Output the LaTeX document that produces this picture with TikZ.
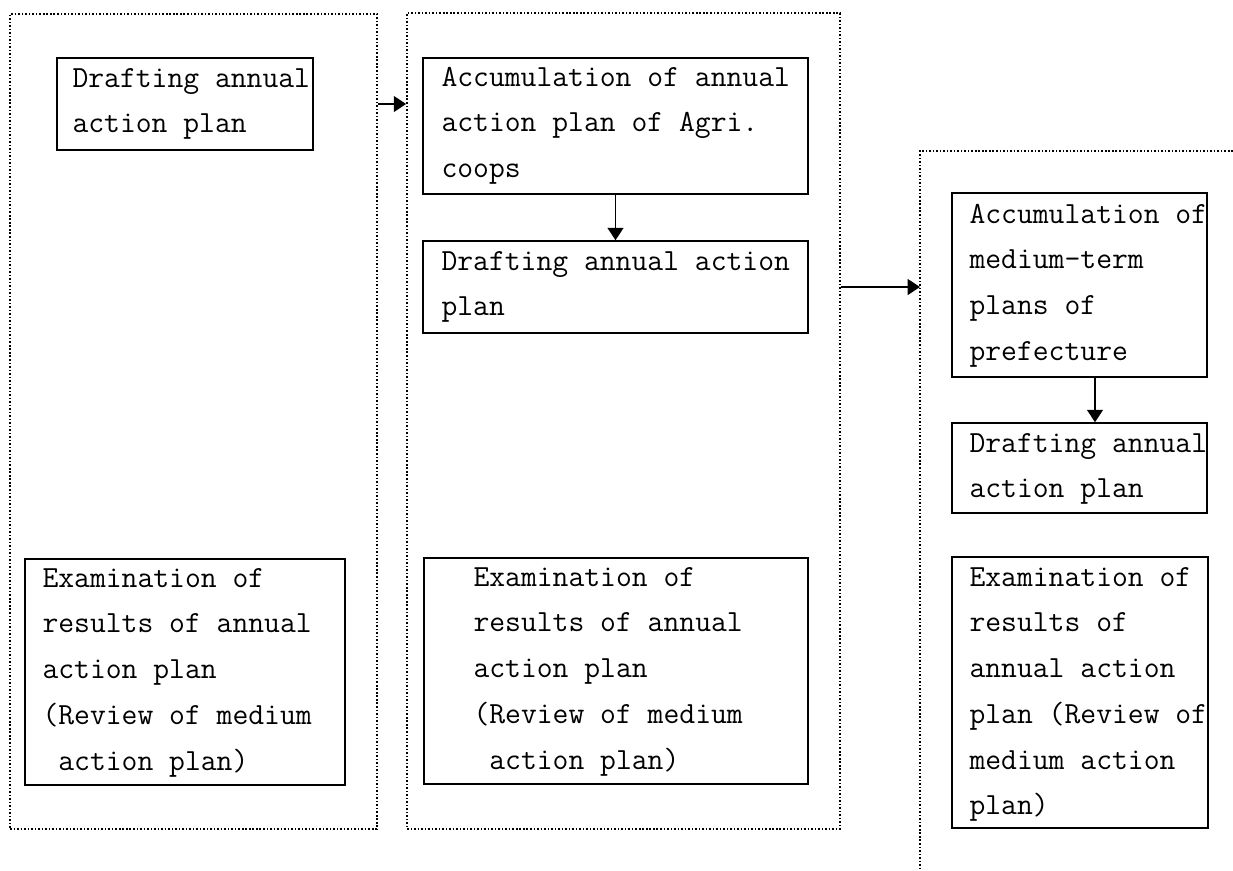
\documentclass[tikz,border=0pt]{standalone}
\usepackage{fontspec}
\usetikzlibrary{fit,arrows.meta}
\begin{document}
\begin{tikzpicture}[x=0.02cm,y=-0.02cm,
  frame/.style={draw,line width=1pt,dash pattern=on 0.9pt off 1.1pt,inner sep=0pt},
  box/.style={draw,line width=0.9pt,inner sep=0pt},
  txt/.style={anchor=north west,inner sep=0pt,align=left,
    font=\ttfamily\addfontfeatures{FakeBold=1.5}\fontsize{17.5pt}{26pt}\selectfont},
  arr/.style={line width=0.9pt,-{Triangle[length=7pt,width=9pt]}}]
\useasboundingbox (0,0) rectangle (1233,870);
% column frames
\node[frame,fit={(10,14) (377,829)}] (c1) {};
\node[frame,fit={(407,13) (840,829)}] (c2) {};
\coordinate (c3) at (920,151);
\draw[line width=1pt,dash pattern=on 0.9pt off 1.1pt] (1233,151) -- (c3) -- (920,870);
% boxes
\node[box,fit={(57,58) (313,150)}] (b1) {};
\node[box,fit={(423,58) (808,194)}] (b2) {};
\node[box,fit={(423,241) (808,333)}] (b3) {};
\node[box,fit={(952,193) (1207,377)}] (b4) {};
\node[box,fit={(952,423) (1207,513)}] (b5) {};
\node[box,fit={(25,559) (345,785)}] (b6) {};
\node[box,fit={(424,558) (808,784)}] (b7) {};
\node[box,fit={(952,557) (1208,828)}] (b8) {};
% texts
\node[txt] (t1) at ([shift={(16,6)}]b1.north west) {\rule{0pt}{13.5pt}Drafting annual\\action plan};
\node[txt] (t2) at ([shift={(19,5)}]b2.north west) {\rule{0pt}{13.5pt}Accumulation of annual\\action plan of Agri.\\coops};
\node[txt] (t3) at ([shift={(19,6)}]b3.north west) {\rule{0pt}{13.5pt}Drafting annual action\\plan};
\node[txt] (t4) at ([shift={(18,7)}]b4.north west) {\rule{0pt}{13.5pt}Accumulation of\\medium-term\\plans of\\prefecture};
\node[txt] (t5) at ([shift={(18,6)}]b5.north west) {\rule{0pt}{13.5pt}Drafting annual\\action plan};
\node[txt] (t6) at ([shift={(18,5)}]b6.north west) {\rule{0pt}{13.5pt}Examination of\\results of annual\\action plan\\(Review of medium\\\hphantom{a}action plan)};
\node[txt] (t7) at ([shift={(50,5)}]b7.north west) {\rule{0pt}{13.5pt}Examination of\\results of annual\\action plan\\(Review of medium\\\hphantom{a}action plan)};
\node[txt] (t8) at ([shift={(18,6)}]b8.north west) {\rule{0pt}{13.5pt}Examination of\\results of\\annual action\\plan (Review of\\medium action\\plan)};
% connectors
\draw[arr] (c1.east |- b1) -- (c2.west |- b1);
\draw[arr] (b2.south) -- (b3.north);
\draw[arr] (c2.east |- b3) -- (c3 |- b3);
\draw[arr] ([xshift=0.31cm]b4.south) -- ([xshift=0.31cm]b5.north);
\end{tikzpicture}
\end{document}
